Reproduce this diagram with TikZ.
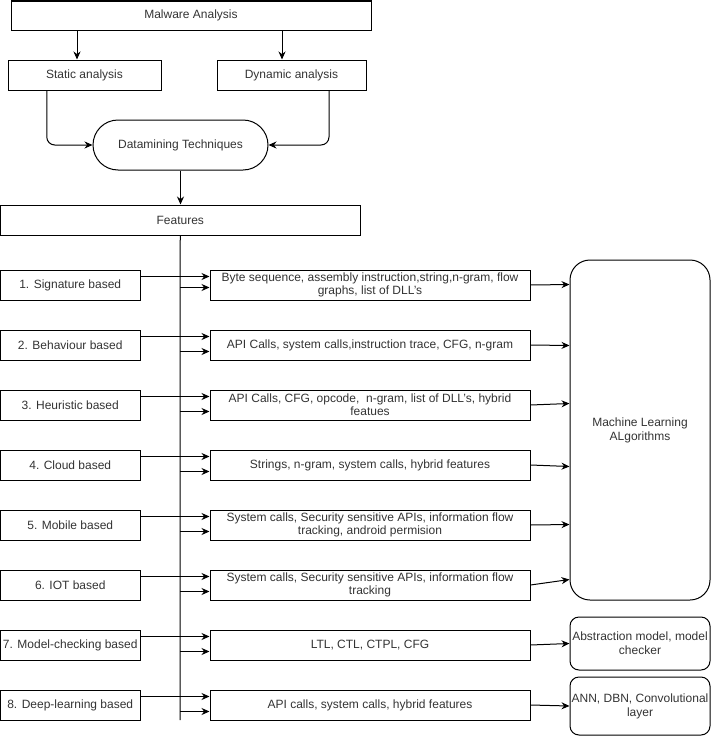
\documentclass[tikz,border=0pt]{standalone}
\usepackage{fontspec}
\setmainfont{Liberation Sans}
\usetikzlibrary{arrows.meta,calc}
\tikzset{
  box/.style={draw=black, line width=1pt, inner sep=1pt, align=center, text=black!80,
    font=\fontsize{12}{14}\selectfont},
  arr/.style={line width=1pt, -{Stealth[length=8pt,width=7pt]}},
  ln/.style={line width=1pt}
}
\begin{document}
\begin{tikzpicture}[x=1pt,y=-1pt]
\useasboundingbox (0,0) rectangle (712,736);
\node[box, minimum width=360, minimum height=29] (mal) at (191,15.5) {Malware Analysis};
\node[box, minimum width=153, minimum height=30] (sta) at (84.5,75) {Static analysis};
\node[box, minimum width=149, minimum height=30] (dyn) at (291.5,75) {Dynamic analysis};
\node[box, rounded corners=25, minimum width=175, minimum height=50] (dm) at (180.5,145) {Datamining Techniques};
\node[box, minimum width=359.5, minimum height=30] (feat) at (180.25,220) {Features};
\node[box, rounded corners=20, minimum width=140, minimum height=340] (ml) at (640,430) {Machine Learning\\ALgorithms};
\node[box, rounded corners=9, minimum width=140, minimum height=53] (abs) at (640,643.5) {Abstraction model, model\\checker};
\node[box, rounded corners=9, minimum width=140, minimum height=58] (ann) at (640,706) {ANN, DBN, Convolutional\\layer};

\coordinate (xa) at (77,0);
\coordinate (xb) at (282,0);
\coordinate (vbot) at (180,720);
\draw[arr] (mal.south -| xa) -- (sta.north -| xa);
\draw[arr] (mal.south -| xb) -- (dyn.north -| xb);
\draw[arr, rounded corners=8] ($(sta.south west)!0.255!(sta.south east)$) |- (dm.west);
\draw[arr, rounded corners=8] ($(dyn.south west)!0.75!(dyn.south east)$) |- (dm.east);
\draw[arr] (dm.south) -- (feat.north -| dm.south);
\draw[ln] (feat.south) -- (vbot);

\foreach \i/\l/\m/\o in {
  1/{1. Signature based}/{Byte sequence, assembly instruction,string,n-gram, flow\\graphs, list of DLL's}/18,
  2/{2. Behaviour based}/{API Calls, system calls,instruction trace, CFG, n-gram}/22,
  3/{3. Heuristic based}/{API Calls, CFG, opcode,\ \ n-gram, list of DLL's, hybrid\\featues}/22,
  4/{4. Cloud based}/{Strings, n-gram, system calls, hybrid features}/22,
  5/{5. Mobile based}/{System calls, Security sensitive APIs, information flow\\tracking, android permision}/22,
  6/{6. IOT based}/{System calls, Security sensitive APIs, information flow\\tracking}/22,
  7/{7. Model-checking based}/{LTL, CTL, CTPL, CFG}/22,
  8/{8. Deep-learning based}/{API calls, system calls, hybrid features}/22}{
  \node[box, minimum width=139.5, minimum height=30] (l\i) at (70.25,{225+60*\i}) {\l};
  \node[box, minimum width=320, minimum height=30, font=\fontsize{12}{13}\selectfont] (m\i) at (370,{225+60*\i}) {\m};
  \draw[arr] ($(l\i.north east)+(0,7)$) coordinate (ta\i) -- (ta\i -| m\i.west);
  \coordinate (tb\i) at ($(l\i.north east)+(0,\o)$);
  \draw[arr] (tb\i -| feat.south) -- (tb\i -| m\i.west);
}
\foreach \i/\e in {1/25,2/86,3/144,4/207,5/265,6/320}{
  \draw[arr] (m\i.east) -- ($(ml.north west)+(0,\e)$);
}
\draw[arr] (m7.east) -- (abs.west);
\draw[arr] (m8.east) -- (ann.west);
\end{tikzpicture}
\end{document}
